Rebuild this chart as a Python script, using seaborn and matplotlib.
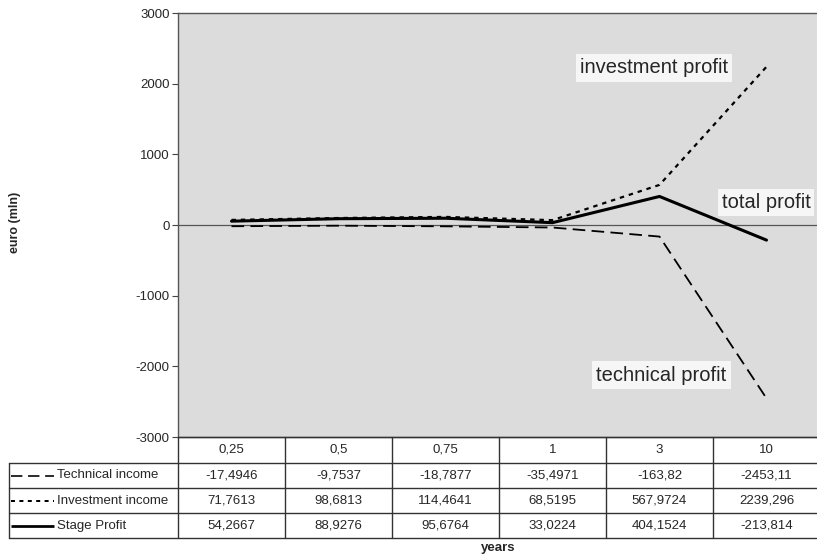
import numpy as np
import pandas as pd
import matplotlib
matplotlib.use("Agg")
import matplotlib.pyplot as plt
import seaborn as sns

years = ['0,25', '0,5', '0,75', '1', '3', '10']
technical_income = [-17.4946, -9.7537, -18.7877, -35.4971, -163.82, -2453.11]
investment_income = [71.7613, 98.6813, 114.4641, 68.5195, 567.9724, 2239.296]
stage_profit = [54.2667, 88.9276, 95.6764, 33.0224, 404.1524, -213.814]
series_names = ['Technical income', 'Investment income', 'Stage Profit']

df = pd.DataFrame({
    'years': years * 3,
    'value': technical_income + investment_income + stage_profit,
    'series': [s for s in series_names for _ in years],
})

sns.set_style("white")
plt.rcParams['font.family'] = ['Liberation Sans', 'DejaVu Sans']

W, H = 817, 556
fig = plt.figure(figsize=(W / 100, H / 100), dpi=100)

# plot area in pixel box
left, top, right, bottom = 178, 13, 820, 437
ax = fig.add_axes([left / W, 1 - bottom / H, (right - left) / W, (bottom - top) / H])
ax.set_facecolor('#dcdcdc')

dashes = {'Technical income': (7, 3.5), 'Investment income': (2, 2.2), 'Stage Profit': ''}
sizes = {'Technical income': 1.3, 'Investment income': 1.6, 'Stage Profit': 2.2}
sns.lineplot(data=df, x='years', y='value', hue='series', style='series', size='series',
             palette={s: 'black' for s in series_names}, dashes=dashes, sizes=sizes,
             sort=False, legend=False, ax=ax)

ax.axhline(0, color='#555555', lw=0.9, zorder=1)
ax.set_xlim(-0.5, len(years) - 0.5)
ax.set_ylim(-3000, 3000)
ax.set_yticks(range(-3000, 3001, 1000))
ax.set_yticklabels([str(v) for v in range(-3000, 3001, 1000)])
ax.set_xticks([])
ax.set_xlabel('')
ax.set_ylabel('')
ax.tick_params(axis='y', which='both', left=True, length=4, width=0.8, color='#444444',
               labelsize=9.5, pad=2)
for sp in ['top', 'left', 'bottom']:
    ax.spines[sp].set_color('#555555')
    ax.spines[sp].set_linewidth(1.0)
ax.spines['right'].set_visible(False)

box = dict(boxstyle='square,pad=0.2', facecolor='white', edgecolor='none', alpha=0.75)
ax.text(3.26, 2222, 'investment profit', fontsize=14.5, ha='left', va='center', bbox=box)
ax.text(4.58, 325, 'total profit', fontsize=14.5, ha='left', va='center', bbox=box)
ax.text(3.41, -2123, 'technical profit', fontsize=14.5, ha='left', va='center', bbox=box)

# overlay in pixel coordinates for table and axis titles
ov = fig.add_axes([0, 0, 1, 1])
ov.set_xlim(0, W)
ov.set_ylim(H, 0)
ov.axis('off')
ov.patch.set_alpha(0)

col_w = (right - left) / len(years)
row_y = [437, 463, 488, 513, 538]
tab_left = 9
lc = '#333333'

# horizontal lines
ov.plot([left, right], [row_y[0], row_y[0]], color=lc, lw=1.0)
for y in row_y[1:]:
    ov.plot([tab_left, right], [y, y], color=lc, lw=1.0)
# vertical lines
ov.plot([tab_left, tab_left], [row_y[1], row_y[-1]], color=lc, lw=1.0)
for i in range(len(years)):
    x = left + i * col_w
    ov.plot([x, x], [row_y[0], row_y[-1]], color=lc, lw=1.0)

for i, yr in enumerate(years):
    ov.text(left + (i + 0.5) * col_w, (row_y[0] + row_y[1]) / 2, yr,
            ha='center', va='center', fontsize=9.5)

table_rows = [technical_income, investment_income, stage_profit]
for r, (name, vals) in enumerate(zip(series_names, table_rows)):
    yc = (row_y[r + 1] + row_y[r + 2]) / 2
    ov.plot([tab_left + 2, 54], [yc, yc], color='black', lw=sizes[name] * 0.9,
            dashes=dashes[name] if dashes[name] else (None, None),
            solid_capstyle='butt')
    ov.text(57, yc, name, ha='left', va='center', fontsize=9.5)
    for i, v in enumerate(vals):
        ov.text(left + (i + 0.5) * col_w, yc, str(v).replace('.', ','),
                ha='center', va='center', fontsize=9.5)

ov.text(15, 222, 'euro (mln)', rotation=90, ha='center', va='center',
        fontsize=9, fontweight='bold')
ov.text(498, 548, 'years', ha='center', va='center', fontsize=9.5, fontweight='bold')

fig.savefig('out.png', dpi=100)
